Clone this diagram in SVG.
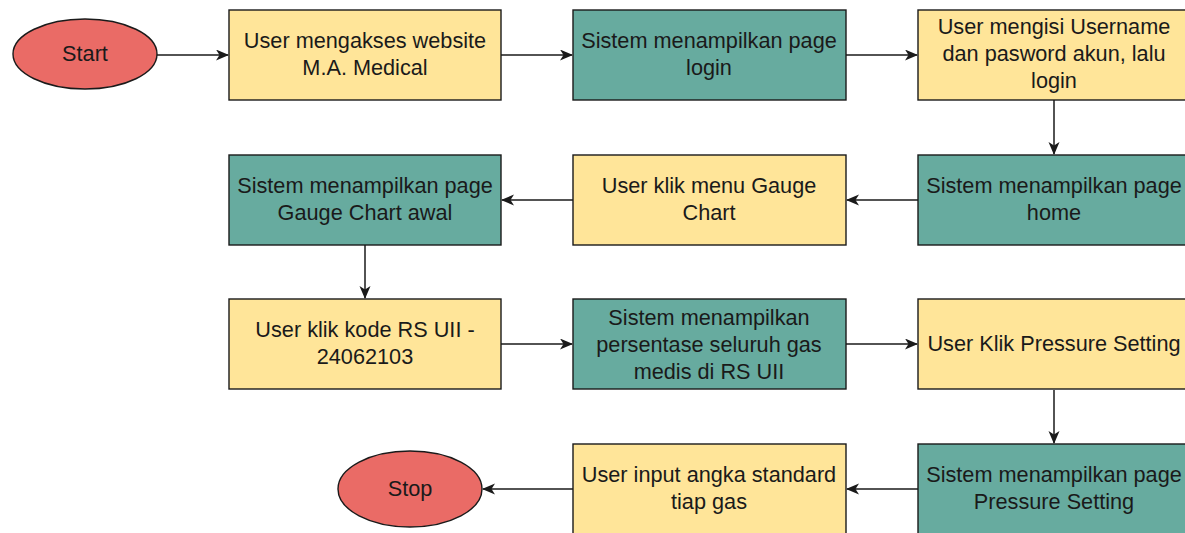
<svg xmlns="http://www.w3.org/2000/svg" width="1185" height="533" viewBox="0 0 1185 533">
<style>
.y{fill:#FFE599;stroke:#1a1a1a;stroke-width:1.4}
.g{fill:#67AB9F;stroke:#1a1a1a;stroke-width:1.4}
.r{fill:#EA6B66;stroke:#1a1a1a;stroke-width:1.4}
text{font-family:"Liberation Sans",Arial,sans-serif;font-size:21.7px;fill:#1a1a1a;text-anchor:middle}
.c line{stroke:#1a1a1a;stroke-width:1.5;marker-end:url(#a)}
</style>
<defs>
<marker id="a" markerWidth="14" markerHeight="12" refX="12" refY="5.5" orient="auto" markerUnits="userSpaceOnUse">
<path d="M0,0 L13,5.5 L0,11 L3.5,5.5 Z" fill="#1a1a1a"/>
</marker>
</defs>
<rect width="1185" height="533" fill="#fff"/>
<g class="c">
<line x1="157" y1="55" x2="228" y2="55"/>
<line x1="501" y1="55" x2="572" y2="55"/>
<line x1="846" y1="55" x2="917" y2="55"/>
<line x1="1054" y1="100" x2="1054" y2="154"/>
<line x1="918" y1="200" x2="847" y2="200"/>
<line x1="573" y1="200" x2="502" y2="200"/>
<line x1="365" y1="245" x2="365" y2="298"/>
<line x1="501" y1="344" x2="572" y2="344"/>
<line x1="846" y1="344" x2="917" y2="344"/>
<line x1="1054" y1="390" x2="1054" y2="443"/>
<line x1="918" y1="489" x2="847" y2="489"/>
<line x1="573" y1="489" x2="483" y2="489"/>
</g>
<g id="start"><ellipse class="r" cx="85" cy="54" rx="72" ry="35"/><text x="85" y="61">Start</text></g>
<g id="n1"><rect class="y" x="229" y="10" width="272" height="90"/><text x="365" y="48">User mengakses website</text><text x="365" y="75">M.A. Medical</text></g>
<g id="n2"><rect class="g" x="573" y="10" width="273" height="90"/><text x="709" y="48">Sistem menampilkan page</text><text x="709" y="75">login</text></g>
<g id="n3"><rect class="y" x="918" y="10" width="272" height="90"/><text x="1054" y="34">User mengisi Username</text><text x="1054" y="61">dan pasword akun, lalu</text><text x="1054" y="88">login</text></g>
<g id="n4"><rect class="g" x="918" y="155" width="272" height="90"/><text x="1054" y="193">Sistem menampilkan page</text><text x="1054" y="220">home</text></g>
<g id="n5"><rect class="y" x="573" y="155" width="273" height="90"/><text x="709" y="193">User klik menu Gauge</text><text x="709" y="220">Chart</text></g>
<g id="n6"><rect class="g" x="229" y="155" width="272" height="90"/><text x="365" y="193">Sistem menampilkan page</text><text x="365" y="220">Gauge Chart awal</text></g>
<g id="n7"><rect class="y" x="229" y="299" width="272" height="90"/><text x="365" y="337">User klik kode RS UII -</text><text x="365" y="364">24062103</text></g>
<g id="n8"><rect class="g" x="573" y="299" width="273" height="90"/><text x="709" y="325">Sistem menampilkan</text><text x="709" y="352">persentase seluruh gas</text><text x="709" y="379">medis di RS UII</text></g>
<g id="n9"><rect class="y" x="918" y="299" width="272" height="90"/><text x="1054" y="351">User Klik Pressure Setting</text></g>
<g id="n10"><rect class="g" x="918" y="444" width="272" height="95"/><text x="1054" y="482">Sistem menampilkan page</text><text x="1054" y="509">Pressure Setting</text></g>
<g id="n11"><rect class="y" x="573" y="444" width="273" height="95"/><text x="709" y="482">User input angka standard</text><text x="709" y="509">tiap gas</text></g>
<g id="stop"><ellipse class="r" cx="410" cy="489" rx="72" ry="38"/><text x="410" y="496">Stop</text></g>
</svg>
